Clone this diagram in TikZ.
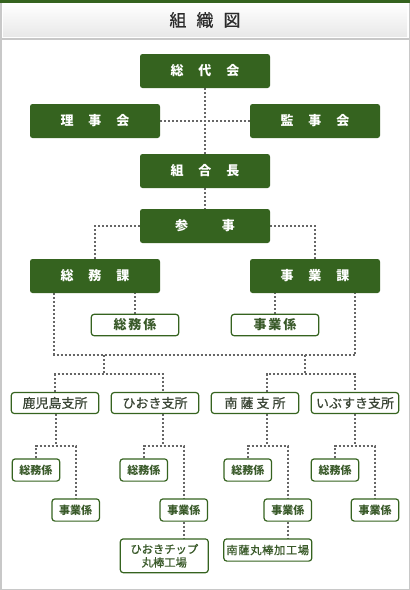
\documentclass[tikz,border=0pt]{standalone}
\usepackage{fontspec}
\newfontfamily\jp{Noto Sans CJK JP}
\newfontfamily\jpm[FakeBold=0.6]{Noto Sans CJK JP}
\usetikzlibrary{backgrounds}
\definecolor{dg}{HTML}{35631F}
\definecolor{ln}{HTML}{666666}
\definecolor{tx}{HTML}{3A5A2A}
\definecolor{btx}{HTML}{3B4636}
\definecolor{bd}{HTML}{C8C8C8}
\definecolor{ttl}{HTML}{2A2A2A}
\begin{document}
\begin{tikzpicture}[x=1pt,y=-1pt,
  gbox/.style={fill=dg, rounded corners=2.5pt, minimum width=130pt, minimum height=34pt, inner sep=0pt, text=white, font=\jp\bfseries\fontsize{13pt}{15pt}\selectfont},
  mbox/.style={draw=dg, line width=1.2pt, fill=white, rounded corners=3pt, minimum width=87.5pt, minimum height=21.5pt, inner sep=0pt, text=tx, font=\jp\bfseries\fontsize{13pt}{15pt}\selectfont},
  brbox/.style={draw=dg, line width=1.2pt, fill=white, rounded corners=3pt, minimum width=87.5pt, minimum height=21pt, inner sep=0pt, text=btx, font=\jpm\fontsize{13pt}{15pt}\selectfont},
  sbox/.style={draw=dg, line width=1.2pt, fill=white, rounded corners=3pt, minimum width=47.5pt, minimum height=22.2pt, inner sep=0pt, text=tx, font=\jp\bfseries\fontsize{11pt}{13pt}\selectfont},
  fbox/.style={draw=dg, line width=1.2pt, fill=white, rounded corners=3pt, minimum width=88pt, inner sep=0pt, text=tx, align=center, font=\jpm\fontsize{11.3pt}{13.3pt}\selectfont},
  conn/.style={draw=ln, line width=1.8pt, dash pattern=on 2pt off 2pt},
]
\useasboundingbox (0,0) rectangle (410,590);
% frame and header
\fill[dg] (0,0) rectangle (410,2.5);
\fill[bd] (0,2.5) rectangle (1.5,590);
\fill[bd] (408.5,2.5) rectangle (410,590);
\fill[bd] (0,588.5) rectangle (410,590);
\shade[top color=white, bottom color=black!9] (3,3) rectangle (407,36.5);
\fill[bd] (0,38) rectangle (410,40);
\node[text=ttl, font=\jpm\fontsize{17pt}{20pt}\selectfont] (title) at (205,20) {組\hspace{10pt}織\hspace{10pt}図};

% top-level boxes
\node[gbox] (sodai) at (205,71) {総\hspace{15pt}代\hspace{15pt}会};
\node[gbox] (riji) at (95,121) {理\hspace{15pt}事\hspace{15pt}会};
\node[gbox] (kanji) at (315,121) {監\hspace{15pt}事\hspace{15pt}会};
\node[gbox] (kumiai) at (205,171) {組\hspace{15pt}合\hspace{15pt}長};
\node[gbox] (sanji) at (205,226) {参\hspace{34pt}事};
\node[gbox] (somuka) at (95,276) {総\hspace{15pt}務\hspace{15pt}課};
\node[gbox] (jigyoka) at (315,276) {事\hspace{15pt}業\hspace{15pt}課};
\node[mbox] (somukakari) at (135,325) {総\hspace{2pt}務\hspace{2pt}係};
\node[mbox] (jigyokakari) at (275,325) {事\hspace{2pt}業\hspace{2pt}係};

% branches
\node[brbox] (kg) at (55,403) {鹿児島支所};
\node[brbox] (hi) at (155,403) {ひおき支所};
\node[brbox] (na) at (255,403) {南\hspace{3pt}薩\hspace{3pt}支\hspace{3pt}所};
\node[brbox] (ib) at (355,403) {いぶすき支所};

% sections
\node[sbox] (kgs) at (36,470) {総務係};
\node[sbox] (kgj) at (75.7,510) {事業係};
\node[sbox] (his) at (143.8,470) {総務係};
\node[sbox] (hij) at (183.8,510) {事業係};
\node[sbox] (nas) at (247.8,470) {総務係};
\node[sbox] (naj) at (287.8,510) {事業係};
\node[sbox] (ibs) at (335,470) {総務係};
\node[sbox] (ibj) at (375,510) {事業係};
\node[fbox, minimum height=33.8pt] (chip) at (164.3,555.8) {ひおきチップ\\丸棒工場};
\node[fbox, minimum height=22.2pt] (marubo) at (267.8,550) {南\hspace{0.6pt}薩\hspace{0.6pt}丸\hspace{0.6pt}棒\hspace{0.6pt}加\hspace{0.6pt}工\hspace{0.6pt}場};

% junction coordinates
\coordinate (jL) at (54.3,355);
\coordinate (jR) at (355,355);
\coordinate (dA) at (104.3,355);
\coordinate (dA2) at (104.3,374.3);
\coordinate (kgX) at (55.3,374.3);
\coordinate (hiX) at (163.3,374.3);
\coordinate (dB) at (305,355);
\coordinate (dB2) at (305,374.3);
\coordinate (naX) at (266.7,374.3);
\coordinate (ibX) at (355,374.3);
\coordinate (kgS) at (55.7,446);
\coordinate (hiS) at (163.3,446);
\coordinate (naS) at (266.7,446);
\coordinate (ibS) at (355,446);

\begin{scope}[on background layer]
\draw[conn] (sodai) -- (kumiai);
\draw[conn] (riji) -- (kanji);
\draw[conn] (kumiai) -- (sanji);
\draw[conn] (sanji.west) -| (somuka.north);
\draw[conn] (sanji.east) -| (jigyoka.north);
\draw[conn] (somukakari.north) -- (somukakari.north |- somuka.south);
\draw[conn] (jigyokakari.north) -- (jigyokakari.north |- jigyoka.south);
\draw[conn] (somuka.south -| jL) -- (jL) -- (jR) -- (jigyoka.south -| jR);
\draw[conn] (dA) -- (dA2);
\draw[conn] (kg.north -| kgX) -- (kgX) -- (hiX) -- (hi.north -| hiX);
\draw[conn] (dB) -- (dB2);
\draw[conn] (na.north -| naX) -- (naX) -- (ibX) -- (ib.north -| ibX);
% branch subtrees
\draw[conn] (kg.south -| kgS) -- (kgS);
\draw[conn] (kgs.north) -- (kgs.north |- kgS) -- (kgj.north |- kgS) -- (kgj.north);
\draw[conn] (hi.south -| hiS) -- (hiS);
\draw[conn] (his.north) -- (his.north |- hiS) -- (hij.north |- hiS) -- (hij.north);
\draw[conn] (na.south -| naS) -- (naS);
\draw[conn] (nas.north) -- (nas.north |- naS) -- (naj.north |- naS) -- (naj.north);
\draw[conn] (ib.south -| ibS) -- (ibS);
\draw[conn] (ibs.north) -- (ibs.north |- ibS) -- (ibj.north |- ibS) -- (ibj.north);
\draw[conn] (hij.south) -- (hij.south |- chip.north);
\draw[conn] (naj.south) -- (naj.south |- marubo.north);
\end{scope}
\end{tikzpicture}
\end{document}
